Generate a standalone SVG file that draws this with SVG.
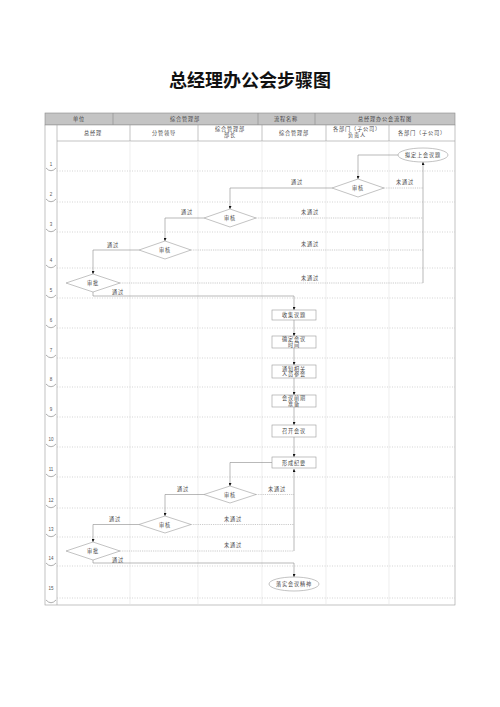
<svg xmlns="http://www.w3.org/2000/svg" width="500" height="707" viewBox="0 0 500 707">
<style>
.t{font-family:"Noto Sans CJK SC","Noto Sans",sans-serif;font-size:5.2px;fill:#444;text-anchor:middle;letter-spacing:0.8px}
.n{font-family:"Liberation Sans",sans-serif;font-size:4.5px;fill:#555;text-anchor:middle}
.title{font-family:"Noto Sans CJK SC",sans-serif;font-size:18px;font-weight:bold;fill:#111;text-anchor:middle}
.hdr{fill:#c4c4c4;stroke:#8a8a8a;stroke-width:0.6}
.cell{fill:#fff;stroke:#9a9a9a;stroke-width:0.6}
.lane{stroke:#e2e2e2;stroke-width:0.6}
.row{stroke:#b8b8b8;stroke-width:0.6;stroke-dasharray:1,1.5}
.chev{fill:none;stroke:#777;stroke-width:0.6}
.node{fill:#fff;stroke:#9a9a9a;stroke-width:0.6}
.c{fill:none;stroke:#8a8a8a;stroke-width:0.6}
.d{fill:none;stroke:#aaa;stroke-width:0.6;stroke-dasharray:1.2,1}
</style>
<defs>
<marker id="a" viewBox="0 0 6 6" refX="6" refY="3" markerWidth="3" markerHeight="3" markerUnits="userSpaceOnUse" orient="auto">
<path d="M0,0 L6,3 L0,6 Z" fill="#111"/>
</marker>
</defs>
<rect width="500" height="707" fill="#fff"/>
<text class="title" x="250" y="87">总经理办公会步骤图</text>

<g id="frame">
<rect class="hdr" x="45" y="113" width="410" height="12"/>
<line x1="113" y1="113" x2="113" y2="125" stroke="#8a8a8a" stroke-width="0.6"/>
<line x1="258" y1="113" x2="258" y2="125" stroke="#8a8a8a" stroke-width="0.6"/>
<line x1="315" y1="113" x2="315" y2="125" stroke="#8a8a8a" stroke-width="0.6"/>
<text class="t" x="79" y="121">单位</text>
<text class="t" x="185" y="121">综合管理部</text>
<text class="t" x="286" y="121">流程名称</text>
<text class="t" x="385" y="121">总经理办公会流程图</text>
<rect class="cell" x="45" y="125" width="410" height="480"/>
<line x1="57" y1="125" x2="57" y2="605" stroke="#9a9a9a" stroke-width="0.6"/>
<line x1="57" y1="141" x2="455" y2="141" stroke="#9a9a9a" stroke-width="0.6"/>
<g stroke="#9a9a9a" stroke-width="0.6">
<line x1="130" y1="125" x2="130" y2="141"/>
<line x1="198" y1="125" x2="198" y2="141"/>
<line x1="262" y1="125" x2="262" y2="141"/>
<line x1="326" y1="125" x2="326" y2="141"/>
<line x1="389" y1="125" x2="389" y2="141"/>
</g>
<text class="t" x="93" y="135">总经理</text>
<text class="t" x="164" y="135">分管领导</text>
<text class="t" x="230" y="131">综合管理部</text>
<text class="t" x="230" y="137">部长</text>
<text class="t" x="294" y="135">综合管理部</text>
<text class="t" x="357" y="131">各部门（子公司）</text>
<text class="t" x="357" y="137">负责人</text>
<text class="t" x="422" y="135">各部门（子公司）</text>
<g class="lane">
<line x1="130" y1="141" x2="130" y2="605"/>
<line x1="198" y1="141" x2="198" y2="605"/>
<line x1="262" y1="141" x2="262" y2="605"/>
<line x1="326" y1="141" x2="326" y2="605"/>
<line x1="389" y1="141" x2="389" y2="605"/>
</g>
<g class="row">
<line x1="57" y1="171" x2="455" y2="171"/>
<line x1="57" y1="202" x2="455" y2="202"/>
<line x1="57" y1="232" x2="455" y2="232"/>
<line x1="57" y1="268" x2="455" y2="268"/>
<line x1="57" y1="298" x2="455" y2="298"/>
<line x1="57" y1="328" x2="455" y2="328"/>
<line x1="57" y1="358" x2="455" y2="358"/>
<line x1="57" y1="387" x2="455" y2="387"/>
<line x1="57" y1="417" x2="455" y2="417"/>
<line x1="57" y1="447" x2="455" y2="447"/>
<line x1="57" y1="477" x2="455" y2="477"/>
<line x1="57" y1="508" x2="455" y2="508"/>
<line x1="57" y1="537" x2="455" y2="537"/>
<line x1="57" y1="566" x2="455" y2="566"/>
<line x1="57" y1="598" x2="455" y2="598"/>
</g>
<g class="chev">
<path d="M46,168 Q51,173.5 56,168"/>
<path d="M46,199 Q51,204.5 56,199"/>
<path d="M46,229 Q51,234.5 56,229"/>
<path d="M46,265 Q51,270.5 56,265"/>
<path d="M46,295 Q51,300.5 56,295"/>
<path d="M46,325 Q51,330.5 56,325"/>
<path d="M46,355 Q51,360.5 56,355"/>
<path d="M46,384 Q51,389.5 56,384"/>
<path d="M46,414 Q51,419.5 56,414"/>
<path d="M46,444 Q51,449.5 56,444"/>
<path d="M46,474 Q51,479.5 56,474"/>
<path d="M46,505 Q51,510.5 56,505"/>
<path d="M46,534 Q51,539.5 56,534"/>
<path d="M46,563 Q51,568.5 56,563"/>
<path d="M46,600 Q51,605.5 56,600"/>
</g>
<g>
<text class="n" x="51" y="166">1</text>
<text class="n" x="51" y="196">2</text>
<text class="n" x="51" y="226">3</text>
<text class="n" x="51" y="262">4</text>
<text class="n" x="51" y="292">5</text>
<text class="n" x="51" y="322">6</text>
<text class="n" x="51" y="352">7</text>
<text class="n" x="51" y="381">8</text>
<text class="n" x="51" y="411">9</text>
<text class="n" x="51" y="441">10</text>
<text class="n" x="51" y="471">11</text>
<text class="n" x="51" y="502">12</text>
<text class="n" x="51" y="531">13</text>
<text class="n" x="51" y="560">14</text>
<text class="n" x="51" y="590">15</text>
</g>
</g>

<g id="connectors">
<path class="c" d="M398,155 H358 V179" marker-end="url(#a)"/>
<path class="c" d="M332,188 H230 V209" marker-end="url(#a)"/>
<path class="d" d="M384,188 H423"/>
<path class="c" d="M204,218 H165 V241" marker-end="url(#a)"/>
<path class="d" d="M256,218 H423"/>
<path class="c" d="M139,250 H93 V274" marker-end="url(#a)"/>
<path class="d" d="M191,250 H423"/>
<path class="d" d="M120,283 H423"/>
<path class="c" d="M423,283 V162" marker-end="url(#a)"/>
<path class="c" d="M93,292 V296 H294 V310" marker-end="url(#a)"/>
<path class="c" d="M294,320 V336" marker-end="url(#a)"/>
<path class="c" d="M294,348 V365" marker-end="url(#a)"/>
<path class="c" d="M294,378 V395" marker-end="url(#a)"/>
<path class="c" d="M294,407 V425" marker-end="url(#a)"/>
<path class="c" d="M294,437 V457" marker-end="url(#a)"/>
<path class="c" d="M272,462.5 H230 V486" marker-end="url(#a)"/>
<path class="d" d="M256,494.5 H294"/>
<path class="c" d="M204,494.5 H165 V516" marker-end="url(#a)"/>
<path class="d" d="M191,524.5 H294"/>
<path class="c" d="M139,524.5 H93 V542" marker-end="url(#a)"/>
<path class="d" d="M120,551 H294"/>
<path class="c" d="M294,551 V469" marker-end="url(#a)"/>
<path class="c" d="M93,560 V563 H294 V577" marker-end="url(#a)"/>
<text class="t" x="297" y="184">通过</text>
<text class="t" x="405" y="184">未通过</text>
<text class="t" x="187" y="214">通过</text>
<text class="t" x="310" y="214">未通过</text>
<text class="t" x="113" y="247">通过</text>
<text class="t" x="310" y="246">未通过</text>
<text class="t" x="310" y="280">未通过</text>
<text class="t" x="118" y="294">通过</text>
<text class="t" x="277" y="491">未通过</text>
<text class="t" x="183" y="491">通过</text>
<text class="t" x="233" y="521">未通过</text>
<text class="t" x="115" y="521">通过</text>
<text class="t" x="233" y="547">未通过</text>
<text class="t" x="118" y="561.5">通过</text>
</g>

<g id="n1"><ellipse class="node" cx="423" cy="155" rx="25" ry="7"/><text class="t" x="423" y="157">拟定上会议题</text></g>
<g id="n2"><polygon class="node" points="358,179 384,188 358,197 332,188"/><text class="t" x="358" y="190">审核</text></g>
<g id="n3"><polygon class="node" points="230,209 256,218 230,227 204,218"/><text class="t" x="230" y="220">审核</text></g>
<g id="n4"><polygon class="node" points="165,241 191,250 165,259 139,250"/><text class="t" x="165" y="252">审核</text></g>
<g id="n5"><polygon class="node" points="93,274 120,283 93,292 66,283"/><text class="t" x="93" y="285">审批</text></g>
<g id="n6"><rect class="node" x="272" y="310" width="44" height="10"/><text class="t" x="294" y="317">收集议题</text></g>
<g id="n7"><rect class="node" x="272" y="336" width="44" height="12"/><text class="t" x="294" y="341">确定会议</text><text class="t" x="294" y="346.5">时间</text></g>
<g id="n8"><rect class="node" x="272" y="365" width="44" height="13"/><text class="t" x="294" y="370.5">通知相关</text><text class="t" x="294" y="376">人员参会</text></g>
<g id="n9"><rect class="node" x="272" y="395" width="44" height="12"/><text class="t" x="294" y="400">会议前期</text><text class="t" x="294" y="405.5">准备</text></g>
<g id="n10"><rect class="node" x="272" y="425" width="44" height="12"/><text class="t" x="294" y="433">召开会议</text></g>
<g id="n11"><rect class="node" x="272" y="457" width="44" height="11"/><text class="t" x="294" y="464.5">形成纪要</text></g>
<g id="n12"><polygon class="node" points="230,486 256,494.5 230,503 204,494.5"/><text class="t" x="230" y="496.5">审核</text></g>
<g id="n13"><polygon class="node" points="165,516 191,524.5 165,533 139,524.5"/><text class="t" x="165" y="526.5">审核</text></g>
<g id="n14"><polygon class="node" points="93,542 120,551 93,560 66,551"/><text class="t" x="93" y="553">审批</text></g>
<g id="n15"><ellipse class="node" cx="294" cy="584" rx="25" ry="7"/><text class="t" x="294" y="586">落实会议精神</text></g>
</svg>
